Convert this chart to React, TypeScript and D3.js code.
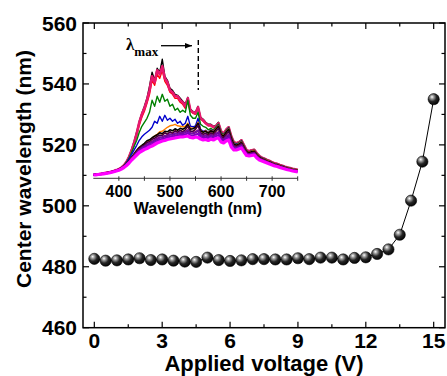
import React from "react";
import * as d3 from "d3";

// ---- Main data ----
const voltages = [0, 0.5, 1, 1.5, 2, 2.5, 3, 3.5, 4, 4.5, 5, 5.5, 6, 6.5, 7, 7.5, 8, 8.5, 9, 9.5, 10, 10.5, 11, 11.5, 12, 12.5, 13, 13.5, 14, 14.5, 15];
const centerWavelength = [482.6, 482.0, 482.1, 482.4, 482.8, 482.2, 482.4, 482.0, 481.7, 481.6, 483.0, 482.2, 481.9, 482.1, 482.5, 482.5, 482.4, 482.4, 482.8, 482.5, 483.0, 483.0, 482.4, 482.9, 483.1, 484.2, 485.7, 490.5, 501.7, 514.5, 535.0];
const xTicks = [0, 3, 6, 9, 12, 15];
const yTicks = [460, 480, 500, 520, 540, 560];

// ---- Inset spectra (wavelength 350..750 nm, 5 nm step; intensity a.u.) ----
const wavelengths = d3.range(350, 751, 5);
const insetTicks = [400, 500, 600, 700];
const specMagenta = [
  3.3, 3.5, 3.8, 4.1, 4.5, 4.9, 5.3, 5.9, 6.5, 7.3,
  8.1, 9.3, 10.8, 12.8, 15.3, 18.3, 20.8, 23.3, 25.8, 27.3,
  28.8, 29.8, 31.3, 32.3, 33.8, 35.3, 36.3, 37.3, 37.8, 38.8,
  39.3, 39.8, 40.3, 40.8, 41.3, 41.3, 41.8, 42.3, 40.8, 40.3,
  41.3, 40.8, 39.3, 38.3, 38.8, 37.8, 39.3, 38.3, 39.8, 40.3,
  36.3, 35.3, 37.3, 38.3, 31.3, 28.3, 28.3, 29.3, 30.3, 26.3,
  22.8, 22.3, 22.8, 23.3, 20.3, 18.3, 17.3, 16.3, 15.3, 14.3,
  13.3, 12.3, 11.8, 10.8, 10.0, 9.3, 8.5, 8.0, 7.3, 6.9,
  6.5];
const specBundleLow = [
  3.35, 3.6, 3.9, 4.2, 4.6, 5.0, 5.45, 6.05, 6.7, 7.5,
  8.3, 9.55, 11.1, 13.2, 15.85, 18.95, 21.7, 24.45, 27.1, 28.75,
  30.3, 31.7, 33.1, 34.3, 35.8, 37.3, 38.6, 39.1, 40.1, 40.7,
  41.6, 41.7, 42.6, 42.6, 43.4, 43.2, 43.9, 45.2, 42.8, 42.6,
  43.7, 44.4, 41.3, 40.2, 40.8, 39.6, 41.3, 40.2, 42.1, 43.2,
  38.2, 36.9, 39.4, 40.9, 33.4, 29.7, 29.4, 30.4, 31.7, 27.4,
  23.7, 23.1, 23.7, 24.2, 21.1, 18.9, 17.8, 16.8, 15.8, 14.8,
  13.7, 12.7, 12.2, 11.2, 10.4, 9.6, 8.8, 8.3, 7.6, 7.2,
  6.8];
const specBundleMid = [
  3.4, 3.7, 4.0, 4.3, 4.7, 5.2, 5.6, 6.2, 6.9, 7.7,
  8.5, 9.8, 11.4, 13.6, 16.4, 19.6, 22.6, 25.6, 28.4, 30.2,
  31.9, 33.6, 35.0, 36.4, 37.9, 39.4, 40.9, 40.9, 42.4, 42.6,
  43.9, 43.6, 44.9, 44.4, 45.6, 45.1, 46.1, 48.1, 44.9, 44.9,
  46.1, 47.9, 43.4, 42.1, 42.9, 41.4, 43.4, 42.1, 44.4, 46.1,
  40.1, 38.6, 41.6, 43.6, 35.6, 31.1, 30.6, 31.6, 33.1, 28.6,
  24.6, 23.9, 24.6, 25.1, 21.9, 19.6, 18.4, 17.4, 16.3, 15.3,
  14.1, 13.1, 12.6, 11.6, 10.8, 10.0, 9.2, 8.7, 8.0, 7.5,
  7.1];
const specBundleHigh = [
  3.5, 3.8, 4.1, 4.4, 4.8, 5.3, 5.8, 6.4, 7.1, 7.9,
  8.8, 10.1, 11.7, 14.0, 17.0, 20.4, 23.5, 27.0, 29.5, 32.0,
  33.0, 36.0, 36.5, 39.0, 40.0, 42.0, 43.0, 43.0, 45.5, 44.0,
  46.5, 45.0, 47.5, 46.0, 48.0, 46.5, 48.5, 52.0, 47.0, 47.0,
  49.0, 53.0, 45.5, 44.0, 45.0, 43.0, 45.5, 44.0, 47.0, 50.0,
  42.0, 40.5, 44.0, 47.0, 38.0, 32.5, 32.0, 33.0, 35.0, 30.0,
  25.5, 24.7, 25.5, 26.0, 22.7, 20.3, 19.0, 18.0, 16.8, 15.8,
  14.6, 13.6, 13.0, 12.1, 11.2, 10.4, 9.6, 9.0, 8.4, 7.9,
  7.4];
const specBundleTop = [
  3.6, 3.9, 4.2, 4.6, 5.0, 5.5, 6.0, 6.6, 7.3, 8.1,
  9.0, 10.3, 12.0, 14.5, 17.5, 21.0, 24.5, 28.0, 31.0, 33.0,
  35.0, 37.5, 38.5, 40.5, 42.0, 43.5, 45.5, 44.5, 47.0, 46.5,
  48.5, 47.5, 49.5, 48.0, 50.0, 49.0, 50.5, 54.0, 49.0, 49.5,
  51.0, 55.0, 47.5, 46.0, 47.0, 45.0, 47.5, 46.0, 49.0, 52.0,
  44.0, 42.0, 46.0, 49.0, 40.0, 34.0, 33.0, 34.0, 36.0, 31.0,
  26.5, 25.5, 26.5, 27.0, 23.5, 21.0, 19.5, 18.5, 17.3, 16.3,
  15.0, 14.0, 13.5, 12.5, 11.6, 10.8, 10.0, 9.4, 8.7, 8.2,
  7.7];
const specOrange = [
  3.4, 3.7, 4.0, 4.3, 4.7, 5.2, 5.6, 6.2, 6.9, 7.7,
  8.6, 10.0, 11.8, 14.3, 17.3, 20.8, 24.0, 27.0, 30.0, 32.5,
  34.0, 36.0, 38.0, 40.0, 42.5, 44.0, 46.5, 47.0, 49.0, 51.0,
  52.5, 53.0, 54.0, 52.5, 52.0, 51.5, 52.0, 55.0, 50.0, 50.0,
  51.0, 56.0, 48.0, 46.5, 47.5, 45.5, 48.0, 46.5, 49.5, 52.5,
  44.5, 42.5, 46.5, 49.5, 40.5, 34.5, 33.5, 34.5, 36.5, 31.5,
  27.0, 26.0, 27.0, 27.5, 24.0, 21.5, 20.0, 19.0, 17.8, 16.8,
  15.5, 14.4, 13.9, 12.9, 12.0, 11.2, 10.4, 9.8, 9.1, 8.6,
  8.1];
const specBlue = [
  3.4, 3.7, 4.0, 4.4, 4.8, 5.3, 5.8, 6.4, 7.1, 7.9,
  8.9, 10.4, 12.4, 15.4, 19.5, 24.0, 28.5, 33.0, 38.0, 41.5,
  44.0, 46.0, 48.0, 51.0, 57.0, 55.0, 62.0, 57.0, 63.0, 58.0,
  60.0, 57.0, 59.0, 55.0, 57.0, 53.0, 55.0, 62.0, 52.0, 51.5,
  52.5, 60.0, 49.0, 47.0, 48.0, 46.0, 48.5, 47.0, 50.0, 53.0,
  45.0, 43.0, 47.0, 50.0, 41.0, 35.0, 34.0, 35.0, 37.0, 32.0,
  27.2, 26.2, 27.2, 27.7, 24.2, 21.6, 20.1, 19.1, 17.9, 16.9,
  15.6, 14.5, 14.0, 13.0, 12.1, 11.3, 10.5, 9.9, 9.2, 8.7,
  8.2];
const specGreen = [
  3.4, 3.7, 4.0, 4.4, 4.8, 5.3, 5.8, 6.5, 7.2, 8.0,
  9.0, 10.6, 12.8, 16.0, 20.5, 26.0, 32.0, 38.0, 46.0, 52.0,
  56.0, 60.0, 66.0, 78.0, 72.0, 82.0, 76.0, 84.0, 77.0, 79.0,
  72.0, 74.0, 68.0, 70.0, 66.0, 68.0, 66.0, 78.0, 63.0, 60.0,
  60.0, 66.0, 54.0, 52.0, 51.0, 48.5, 50.0, 48.0, 51.0, 54.0,
  46.0, 43.5, 47.5, 50.5, 41.5, 35.5, 34.5, 35.5, 37.5, 32.5,
  27.5, 26.5, 27.5, 28.0, 24.5, 22.0, 20.3, 19.3, 18.1, 17.1,
  15.8, 14.7, 14.2, 13.2, 12.3, 11.4, 10.6, 10.0, 9.3, 8.8,
  8.3];
const specRed = [
  3.5, 3.8, 4.1, 4.5, 4.9, 5.4, 5.9, 6.6, 7.3, 8.2,
  9.2, 10.7, 12.9, 16.2, 21.0, 27.0, 34.5, 43.0, 53.0, 61.0,
  67.0, 75.0, 84.0, 98.0, 93.0, 104.0, 100.0, 108.0, 97.0, 93.0,
  86.0, 84.0, 80.0, 80.0, 76.0, 74.0, 70.0, 79.0, 67.0, 65.0,
  64.0, 70.0, 59.0, 57.0, 54.5, 52.5, 52.5, 50.5, 51.5, 54.5,
  46.5, 44.0, 48.0, 50.5, 41.5, 35.5, 34.5, 35.5, 37.5, 32.5,
  27.8, 26.8, 27.8, 28.3, 24.8, 22.1, 20.4, 19.4, 18.2, 17.2,
  15.9, 14.8, 14.3, 13.3, 12.4, 11.5, 10.7, 10.1, 9.4, 8.9,
  8.4];
const specCrimson = [
  3.5, 3.8, 4.1, 4.5, 4.9, 5.4, 5.9, 6.6, 7.3, 8.2,
  9.2, 10.8, 13.0, 16.5, 21.5, 28.0, 36.0, 45.0, 56.0, 64.0,
  70.0, 78.0, 88.0, 102.0, 96.0, 108.0, 104.0, 112.0, 100.0, 96.0,
  88.0, 86.0, 82.0, 82.0, 78.0, 76.0, 72.0, 80.0, 68.0, 66.0,
  65.0, 71.0, 60.0, 58.0, 55.0, 53.0, 53.0, 51.0, 52.0, 55.0,
  47.0, 44.5, 48.5, 51.0, 42.0, 36.0, 35.0, 36.0, 38.0, 33.0,
  28.0, 27.0, 28.0, 28.5, 25.0, 22.3, 20.6, 19.6, 18.4, 17.4,
  16.0, 14.9, 14.4, 13.4, 12.5, 11.6, 10.8, 10.2, 9.5, 9.0,
  8.5];
const specBlackMax = [
  3.5, 3.8, 4.1, 4.5, 5.0, 5.5, 6.0, 6.7, 7.4, 8.3,
  9.3, 10.9, 13.2, 16.8, 22.0, 29.0, 37.0, 46.5, 57.0, 65.0,
  72.0, 80.0, 92.0, 106.0, 98.0, 110.0, 106.0, 119.0, 102.0, 98.0,
  90.0, 88.0, 84.0, 83.0, 80.0, 77.0, 74.0, 81.0, 69.0, 67.0,
  66.0, 72.0, 61.0, 59.0, 56.0, 54.0, 54.0, 52.0, 53.0, 56.0,
  47.5, 45.0, 49.0, 51.5, 42.5, 36.5, 35.5, 36.5, 38.5, 33.5,
  28.3, 27.3, 28.3, 28.8, 25.3, 22.5, 20.8, 19.8, 18.6, 17.6,
  16.2, 15.1, 14.6, 13.6, 12.7, 11.8, 11.0, 10.4, 9.7, 9.2,
  8.7];

const spectra = [
  { values: specBlackMax, color: "#000000", w: 1.4 },
  { values: specRed, color: "#FF0000", w: 1.4 },
  { values: specCrimson, color: "#E8186E", w: 2.6 },
  { values: specGreen, color: "#008000", w: 1.4 },
  { values: specBlue, color: "#0000CC", w: 1.4 },
  { values: specOrange, color: "#FF8000", w: 1.4 },
  { values: specBundleTop, color: "#000000", w: 1.6 },
  { values: specBundleHigh, color: "#800000", w: 1.6 },
  { values: specBundleHigh, color: "#000080", w: 0.8 },
  { values: specBundleMid, color: "#800080", w: 2.4 },
  { values: specBundleMid, color: "#6020C0", w: 0.8 },
  { values: specBundleLow, color: "#8000C0", w: 2.2 },
  { values: specMagenta, color: "#FF00FF", w: 3.2 },
];

const FONT = "'Liberation Sans', Arial, Helvetica, sans-serif";
const SERIF = "'Liberation Serif', 'Times New Roman', serif";

export default function App() {
  const W = 447, H = 376;
  const L = 83, R = 445, T = 23, B = 327.7;
  const x = d3.scaleLinear().domain([-0.5, 15.5]).range([L, R]);
  const y = d3.scaleLinear().domain([460, 560]).range([B, T]);

  const xMinor = d3.range(0, 15.01, 1.5);
  const yMinor = d3.range(460, 560.01, 10);

  const ix = d3.scaleLinear().domain([350, 750]).range([93.3, 297.7]);
  const iy = d3.scaleLinear().domain([0, 120]).range([178.3, 58.3]);
  const insetMinor = d3.range(400, 751, 50);

  const specLine = d3.line<number>()
    .x((_, i) => ix(wavelengths[i]))
    .y((v) => iy(v));

  const mainLine = d3.line<number>()
    .x((_, i) => x(voltages[i]))
    .y((v) => y(v));

  return (
    <svg width={W} height={H} style={{ position: "absolute", left: 0, top: 0, background: "#fff" }}>
      <defs>
        <radialGradient id="ball" cx="0.38" cy="0.35" r="0.7" fx="0.35" fy="0.3">
          <stop offset="0" stopColor="#ffffff" />
          <stop offset="0.22" stopColor="#a0a0a0" />
          <stop offset="0.55" stopColor="#262626" />
          <stop offset="1" stopColor="#000000" />
        </radialGradient>
        <marker id="arrow" viewBox="0 0 10 10" refX="10" refY="5" markerWidth="7" markerHeight="7" orient="auto" markerUnits="userSpaceOnUse">
          <path d="M0,1 L10,5 L0,9 Z" fill="#000" />
        </marker>
      </defs>
      <rect x={0} y={0} width={W} height={H} fill="#fff" />

      {/* Inset spectra */}
      <g>
        {spectra.map((s, i) => (
          <path key={i} d={specLine(s.values) || ""} fill="none" stroke={s.color} strokeWidth={s.w} strokeLinejoin="round" />
        ))}
        <line x1={ix(350)} x2={ix(750)} y1={iy(0)} y2={iy(0)} stroke="#333" strokeWidth={1} />
        {insetMinor.map((t) => (
          <line key={t} x1={ix(t)} x2={ix(t)} y1={iy(0) - 2} y2={iy(0) + 2.5} stroke="#333" strokeWidth={1} />
        ))}
        {insetTicks.map((t) => (
          <text key={t} x={ix(t)} y={197} textAnchor="middle" fontFamily={FONT} fontWeight="bold" fontSize={16}>{t}</text>
        ))}
        <text x={198} y={214} textAnchor="middle" fontFamily={FONT} fontWeight="bold" fontSize={16}>Wavelength (nm)</text>
        <text x={126} y={50} fontFamily={SERIF} fontWeight="bold" fontSize={17}>λ
          <tspan fontSize={13} dy={6}>max</tspan>
        </text>
        <line x1={161} y1={45.7} x2={192} y2={45.7} stroke="#000" strokeWidth={1.3} markerEnd="url(#arrow)" />
        <line x1={198.3} y1={40} x2={198.3} y2={90} stroke="#000" strokeWidth={1.4} strokeDasharray="5,3" />
      </g>

      {/* Frame */}
      <rect x={L} y={T} width={R - L} height={B - T} fill="none" stroke="#000" strokeWidth={1.5} />
      {xMinor.map((t) => {
        const major = xTicks.includes(t);
        const len = major ? 6 : 3.5;
        return (
          <g key={"xt" + t}>
            <line x1={x(t)} x2={x(t)} y1={B} y2={B - len} stroke="#000" strokeWidth={1.2} />
            <line x1={x(t)} x2={x(t)} y1={T} y2={T + len} stroke="#000" strokeWidth={1.2} />
          </g>
        );
      })}
      {yMinor.map((t) => {
        const major = yTicks.includes(t);
        const len = major ? 6 : 3.5;
        return (
          <g key={"yt" + t}>
            <line x1={L} x2={L + len} y1={y(t)} y2={y(t)} stroke="#000" strokeWidth={1.2} />
            <line x1={R} x2={R - len} y1={y(t)} y2={y(t)} stroke="#000" strokeWidth={1.2} />
          </g>
        );
      })}
      {xTicks.map((t) => (
        <text key={"xl" + t} x={x(t)} y={348} textAnchor="middle" fontFamily={FONT} fontWeight="bold" fontSize={21}>{t}</text>
      ))}
      {yTicks.map((t) => (
        <text key={"yl" + t} x={77} y={y(t) + 7.5} textAnchor="end" fontFamily={FONT} fontWeight="bold" fontSize={21}>{t}</text>
      ))}
      <text x={(L + R) / 2} y={371} textAnchor="middle" fontFamily={FONT} fontWeight="bold" fontSize={22}>Applied voltage (V)</text>
      <text transform={`translate(31,${169}) rotate(-90)`} textAnchor="middle" fontFamily={FONT} fontWeight="bold" fontSize={21}>Center wavelength (nm)</text>

      {/* Main series */}
      <path d={mainLine(centerWavelength) || ""} fill="none" stroke="#000" strokeWidth={1} />
      {centerWavelength.map((v, i) => (
        <circle key={i} cx={x(voltages[i])} cy={y(v)} r={5.6} fill="url(#ball)" stroke="#000" strokeWidth={0.6} />
      ))}
    </svg>
  );
}
